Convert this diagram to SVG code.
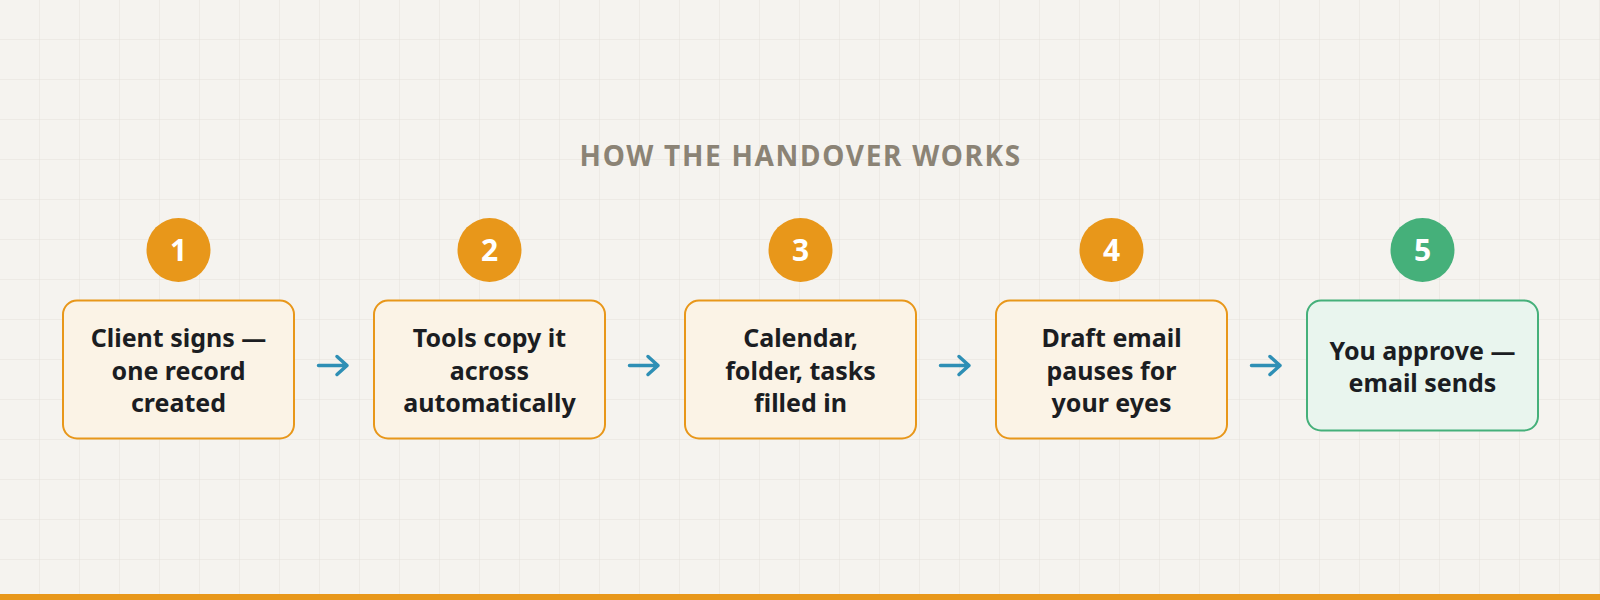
<svg xmlns="http://www.w3.org/2000/svg" width="1600" height="600" viewBox="0 0 1600 600">
  <defs>
    <pattern id="grid" width="40" height="40" patternUnits="userSpaceOnUse">
      <path d="M40 0 V40 M0 40 H40" fill="none" stroke="#e4e1db" stroke-width="1"/>
    </pattern>
    <style>
      .title { font-family: "Noto Sans", "Open Sans", sans-serif; font-weight: 700; font-size: 28px; letter-spacing: 1.7px; fill: #8b8375; }
      .box { fill: #fbf3e6; stroke: #e8971a; stroke-width: 2; }
      .box.done { fill: #e9f5ee; stroke: #45b07a; }
      .badge { fill: #e8971a; }
      .badge.done { fill: #45b07a; }
      .num { font-family: "Noto Sans", "Open Sans", sans-serif; font-weight: 700; font-size: 30px; fill: #ffffff; text-anchor: middle; }
      .label { font-family: "Noto Sans", "Open Sans", sans-serif; font-weight: 700; font-size: 25px; fill: #1b1d22; text-anchor: middle; }
      .arrow { fill: none; stroke: #2e8fb5; stroke-width: 3.5; stroke-linecap: round; stroke-linejoin: round; }
    </style>
  </defs>
  <rect width="1600" height="600" fill="#f5f3ef"/>
  <rect width="1600" height="600" fill="url(#grid)"/>
  <rect x="0" y="594" width="1600" height="6" fill="#e8971a"/>

  <text class="title" x="800.8" y="166" text-anchor="middle">HOW THE HANDOVER WORKS</text>

  <g id="step1">
    <circle class="badge" cx="178.5" cy="250" r="32"/>
    <text class="num" x="178.5" y="261">1</text>
    <rect class="box" x="63" y="300.5" width="231" height="138" rx="14"/>
    <text class="label"><tspan x="178.5" y="347">Client signs —</tspan><tspan x="178.5" y="379.5">one record</tspan><tspan x="178.5" y="411.5">created</tspan></text>
  </g>

  <g id="step2">
    <circle class="badge" cx="489.5" cy="250" r="32"/>
    <text class="num" x="489.5" y="261">2</text>
    <rect class="box" x="374" y="300.5" width="231" height="138" rx="14"/>
    <text class="label"><tspan x="489.5" y="347">Tools copy it</tspan><tspan x="489.5" y="379.5">across</tspan><tspan x="489.5" y="411.5">automatically</tspan></text>
  </g>

  <g id="step3">
    <circle class="badge" cx="800.5" cy="250" r="32"/>
    <text class="num" x="800.5" y="261">3</text>
    <rect class="box" x="685" y="300.5" width="231" height="138" rx="14"/>
    <text class="label"><tspan x="800.5" y="347">Calendar,</tspan><tspan x="800.5" y="379.5">folder, tasks</tspan><tspan x="800.5" y="411.5">filled in</tspan></text>
  </g>

  <g id="step4">
    <circle class="badge" cx="1111.5" cy="250" r="32"/>
    <text class="num" x="1111.5" y="261">4</text>
    <rect class="box" x="996" y="300.5" width="231" height="138" rx="14"/>
    <text class="label"><tspan x="1111.5" y="347">Draft email</tspan><tspan x="1111.5" y="379.5">pauses for</tspan><tspan x="1111.5" y="411.5">your eyes</tspan></text>
  </g>

  <g id="step5">
    <circle class="badge done" cx="1422.5" cy="250" r="32"/>
    <text class="num" x="1422.5" y="261">5</text>
    <rect class="box done" x="1307" y="300.5" width="231" height="130" rx="14"/>
    <text class="label"><tspan x="1422.5" y="359.5">You approve —</tspan><tspan x="1422.5" y="391.5">email sends</tspan></text>
  </g>

  <g id="connectors">
    <path class="arrow" d="M318.5 365.5 H347 M337 356.5 L347 365.5 L337 374.5"/>
    <path class="arrow" d="M629.5 365.5 H658 M648 356.5 L658 365.5 L648 374.5"/>
    <path class="arrow" d="M940.5 365.5 H969 M959 356.5 L969 365.5 L959 374.5"/>
    <path class="arrow" d="M1251.5 365.5 H1280 M1270 356.5 L1280 365.5 L1270 374.5"/>
  </g>
</svg>
